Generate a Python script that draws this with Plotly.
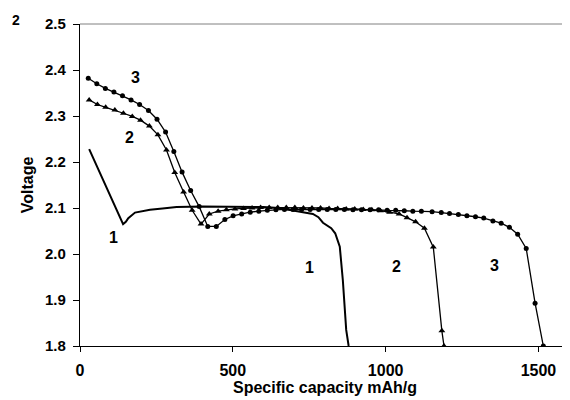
import plotly.graph_objects as go

# Curve 1 (plain line)
cap1 = [30, 85, 141, 150, 158, 180, 229, 270, 316, 400, 500, 600, 650, 700, 720, 762, 780, 795, 822, 835, 844, 850, 860, 871, 879]
volt1 = [2.228, 2.147, 2.065, 2.070, 2.078, 2.090, 2.096, 2.099, 2.102, 2.103, 2.103, 2.102, 2.100, 2.095, 2.092, 2.087, 2.080, 2.068, 2.056, 2.045, 2.030, 2.016, 1.943, 1.835, 1.800]

# Curve 2 (triangles)
cap2 = [30, 57, 84, 114, 142, 171, 198, 227, 255, 283, 310, 339, 367, 396, 423, 452, 479, 507, 535, 563, 591,
        619, 647, 675, 703, 731, 759, 787, 815, 843, 871, 899, 927, 955, 983, 1013, 1044, 1070, 1098, 1127,
        1156, 1184, 1191]
volt2 = [2.335, 2.325, 2.319, 2.313, 2.306, 2.299, 2.291, 2.278, 2.259, 2.226, 2.177, 2.135, 2.095, 2.065, 2.087,
         2.093, 2.096, 2.098, 2.099, 2.100, 2.101, 2.101, 2.101, 2.101, 2.101, 2.100, 2.100, 2.100, 2.099, 2.099,
         2.098, 2.098, 2.097, 2.096, 2.094, 2.091, 2.087, 2.079, 2.070, 2.056, 2.015, 1.833, 1.800]

# Curve 3 (circles)
cap3 = [27, 55, 83, 111, 139, 167, 195, 224, 252, 280, 307, 334, 362, 390, 418, 446, 474, 501, 529, 557, 585,
        613, 641, 669, 697, 725, 753, 781, 809, 837, 865, 893, 921, 949, 977, 1005, 1033, 1061, 1089, 1117,
        1152, 1182, 1209, 1238, 1266, 1294, 1321, 1351, 1378, 1405, 1432, 1460, 1489, 1516]
volt3 = [2.382, 2.370, 2.360, 2.352, 2.344, 2.335, 2.325, 2.312, 2.293, 2.265, 2.223, 2.178, 2.138, 2.103, 2.060,
         2.060, 2.075, 2.083, 2.087, 2.091, 2.093, 2.095, 2.096, 2.097, 2.097, 2.097, 2.097, 2.097, 2.097, 2.097,
         2.097, 2.096, 2.096, 2.096, 2.096, 2.095, 2.095, 2.094, 2.093, 2.093, 2.092, 2.090, 2.088, 2.086, 2.083,
         2.081, 2.078, 2.072, 2.067, 2.058, 2.043, 2.012, 1.893, 1.800]

x_ticks = [0, 500, 1000, 1500]
y_ticks = [1.8, 1.9, 2.0, 2.1, 2.2, 2.3, 2.4, 2.5]
y_tick_text = ["1.8", "1.9", "2.0", "2.1", "2.2", "2.3", "2.4", "2.5"]

# curve labels: (x, y, text)
label_x = [183, 163, 108, 752, 1036, 1356]
label_y = [2.383, 2.254, 2.035, 1.970, 1.972, 1.976]
label_t = ["3", "2", "1", "1", "2", "3"]

FONT = "Liberation Sans, Arial, sans-serif"

fig = go.Figure()
fig.add_trace(go.Scatter(x=cap1, y=volt1, mode="lines", line=dict(color="black", width=2), showlegend=False))
fig.add_trace(go.Scatter(x=cap2, y=volt2, mode="lines+markers", line=dict(color="black", width=1.3),
                         marker=dict(symbol="triangle-up", size=6, color="black"), showlegend=False))
fig.add_trace(go.Scatter(x=cap3, y=volt3, mode="lines+markers", line=dict(color="black", width=1.3),
                         marker=dict(symbol="circle", size=5, color="black"), showlegend=False))

for xv, yv, t in zip(label_x, label_y, label_t):
    fig.add_annotation(x=xv, y=yv, text=t, showarrow=False, xanchor="center", yanchor="middle",
                       font=dict(family=FONT, size=16, color="black", weight="bold"))

fig.add_annotation(xref="paper", yref="paper", x=0.5, y=-0.163, xanchor="center", yanchor="bottom",
                   text="Specific capacity mAh/g", showarrow=False,
                   font=dict(family=FONT, size=16, color="black", weight="bold"))
fig.add_annotation(xref="paper", yref="paper", x=-0.108, y=0.5, textangle=-90,
                   xanchor="center", yanchor="middle",
                   text="Voltage", showarrow=False,
                   font=dict(family=FONT, size=16, color="black", weight="bold"))
fig.add_annotation(xref="paper", yref="paper", x=-0.131, y=1.012,
                   xanchor="center", yanchor="middle",
                   text="2", showarrow=False,
                   font=dict(family=FONT, size=14, color="black", weight="bold"))

fig.add_shape(type="line", xref="paper", yref="paper", x0=0, x1=1, y0=1, y1=1,
              line=dict(color="#808080", width=1))
fig.add_shape(type="line", xref="paper", yref="paper", x0=1, x1=1, y0=0, y1=1,
              line=dict(color="#808080", width=1))

# page body has an 8px margin, so the figure is sized/offset to compensate
fig.update_layout(
    width=562, height=392,
    margin=dict(l=72, r=1, t=16, b=54),
    plot_bgcolor="white", paper_bgcolor="white",
    font=dict(family=FONT, color="black"),
    xaxis=dict(range=[0, 1600], tickvals=x_ticks, ticks="outside", ticklen=5, tickcolor="black",
               showline=True, linecolor="black", linewidth=1.2, showgrid=False, zeroline=False,
               automargin=False,
               tickfont=dict(family=FONT, size=16, color="black", weight="bold"), ticklabelstandoff=5),
    yaxis=dict(range=[1.8, 2.5], tickvals=y_ticks, ticktext=y_tick_text, ticks="outside", ticklen=6,
               tickcolor="black", showline=True, linecolor="black", linewidth=1.2, showgrid=False,
               zeroline=False, automargin=False,
               tickfont=dict(family=FONT, size=15, color="black", weight="bold"),
               ticklabelstandoff=4),
)

fig.write_html("out.html")
